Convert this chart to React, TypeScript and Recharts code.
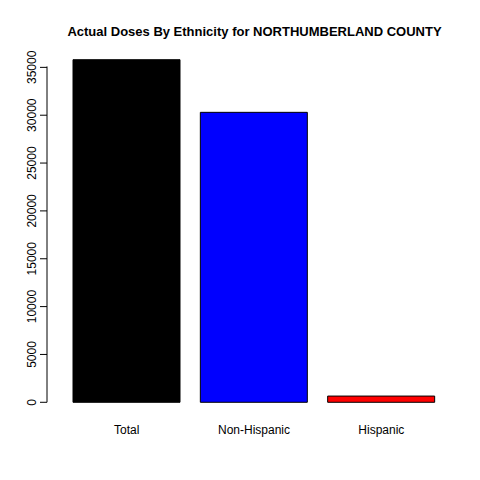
import { BarChart, Bar, XAxis, YAxis, Cell } from 'recharts'

const categories = ['Total', 'Non-Hispanic', 'Hispanic']
const doses = [35800, 30300, 650]
const colors = ['#000000', '#0000ff', '#ff0000']
const yTicks = [0, 5000, 10000, 15000, 20000, 25000, 30000, 35000]

const data = categories.map((name, i) => ({ name, value: doses[i] }))

const TOP = 46
const BOTTOM = 63
const H = 480
const DMIN = -1432
const DMAX = 37232
const pxPerUnit = (H - TOP - BOTTOM) / (DMAX - DMIN)

const YTick = (props: any) => {
  const { y, payload } = props
  return (
    <g>
      {payload.value === 0 && (
        <line x1={47} x2={47} y1={y} y2={y - 35000 * pxPerUnit} stroke="#000" />
      )}
      <line x1={40} x2={47} y1={y} y2={y} stroke="#000" />
      <text
        x={36}
        y={y}
        transform={`rotate(-90 36 ${y})`}
        textAnchor="middle"
        fontSize={12}
        fontFamily="Liberation Sans, Arial"
        fill="#000"
      >
        {payload.value}
      </text>
    </g>
  )
}

const XTick = (props: any) => {
  const { x, payload } = props
  return (
    <text x={x} y={434} textAnchor="middle" fontSize={12} fontFamily="Liberation Sans, Arial" fill="#000">
      {payload.value}
    </text>
  )
}

export default function App() {
  return (
    <div style={{ position: 'absolute', left: 0, top: 0, width: 480, height: 480, background: '#fff' }}>
      <div
        style={{
          position: 'absolute',
          top: 24,
          left: 59,
          width: 391,
          textAlign: 'center',
          fontFamily: 'Liberation Sans, Arial',
          fontWeight: 'bold',
          fontSize: 13,
        }}
      >
        Actual Doses By Ethnicity for NORTHUMBERLAND COUNTY
      </div>
      <BarChart
        width={480}
        height={480}
        data={data}
        margin={{ top: TOP, bottom: BOTTOM, left: 0, right: 35 }}
        barCategoryGap={10}
      >
        <XAxis dataKey="name" axisLine={false} tickLine={false} tick={<XTick />} height={1} />
        <YAxis
          width={63}
          domain={[DMIN, DMAX]}
          ticks={yTicks}
          allowDataOverflow
          axisLine={false}
          tickLine={false}
          tick={<YTick />}
          interval={0}
        />
        <Bar dataKey="value" stroke="#000" isAnimationActive={false}>
          {data.map((d, i) => (
            <Cell key={d.name} fill={colors[i]} />
          ))}
        </Bar>
      </BarChart>
    </div>
  )
}
